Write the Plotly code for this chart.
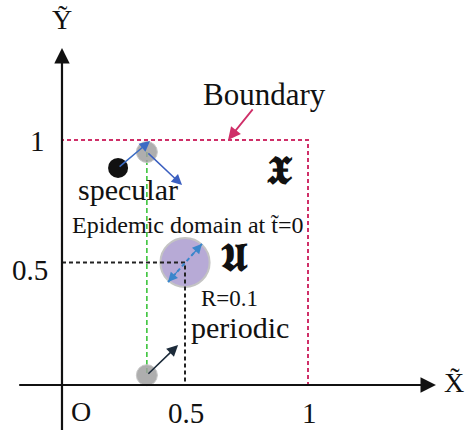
import plotly.graph_objects as go

# ---- data (domain coordinates) ----
tick_vals = [0.5, 1.0]
x_tick_labels = ["0.5", "1"]
y_tick_labels = ["0.5", "1"]
boundary_x = [0, 1, 1, 0, 0]
boundary_y = [0, 0, 1, 1, 0]
domain_center = [0.5, 0.5]
domain_radius = 0.1
specular_particle = [0.228, 0.886]
mirror_particle = [0.345, 0.951]
periodic_particle = [0.345, 0.04]
specular_in_tip = [0.358, 0.996]
specular_out_tip = [0.488, 0.816]
periodic_tip = [0.472, 0.163]
diam_a = [0.431, 0.42]
diam_b = [0.569, 0.576]
boundary_label = [0.825, 1.184]
boundary_arrow_tail = [0.78, 1.131]
boundary_arrow_head = [0.675, 1.0]

SERIF = "Liberation Serif"
CRIMSON = "#cf2f68"

fig = go.Figure()

# boundary square
fig.add_trace(go.Scatter(x=boundary_x, y=boundary_y, mode="lines",
                         line=dict(color=CRIMSON, width=2, dash="4px,3px"),
                         hoverinfo="skip"))
# black dotted guides to domain centre
fig.add_trace(go.Scatter(x=[0, domain_center[0], domain_center[0]],
                         y=[domain_center[1], domain_center[1], 0], mode="lines",
                         line=dict(color="#222222", width=2, dash="4px,3px"),
                         hoverinfo="skip"))
# green dashed trajectory line
fig.add_trace(go.Scatter(x=[mirror_particle[0], periodic_particle[0]],
                         y=[mirror_particle[1], periodic_particle[1]], mode="lines",
                         line=dict(color="#3cc43c", width=1.6, dash="5px,3px"),
                         hoverinfo="skip"))

# epidemic domain circle
fig.add_shape(type="circle", xref="x", yref="y",
              x0=domain_center[0] - domain_radius, x1=domain_center[0] + domain_radius,
              y0=domain_center[1] - domain_radius, y1=domain_center[1] + domain_radius,
              fillcolor="#b7aad6", line=dict(color="#c4c4c4", width=2), layer="below")

# particles
fig.add_trace(go.Scatter(x=[specular_particle[0]], y=[specular_particle[1]], mode="markers",
                         marker=dict(size=20, color="#111111"), hoverinfo="skip"))
fig.add_trace(go.Scatter(x=[mirror_particle[0], periodic_particle[0]],
                         y=[mirror_particle[1], periodic_particle[1]], mode="markers",
                         marker=dict(size=21, color="rgba(160,160,160,0.85)",
                                     line=dict(color="#c8c8c8", width=1)), hoverinfo="skip"))

# diameter dashed line
fig.add_trace(go.Scatter(x=[diam_a[0], diam_b[0]], y=[diam_a[1], diam_b[1]], mode="lines",
                         line=dict(color="#3a86cc", width=2, dash="4px,3px"), hoverinfo="skip"))

def arrow(tail, head, color, width=1.6, size=1.3, head_style=2):
    fig.add_annotation(x=head[0], y=head[1], ax=tail[0], ay=tail[1],
                       xref="x", yref="y", axref="x", ayref="y",
                       showarrow=True, arrowhead=head_style, arrowsize=size,
                       arrowwidth=width, arrowcolor=color, text="")

# axes
arrow([-0.18, 0], [1.52, 0], "#111111", width=2.2, size=1.4)
arrow([0, -0.19], [0, 1.375], "#111111", width=2.2, size=1.4)
# specular arrows
arrow(specular_particle, specular_in_tip, "#3b6cc4", width=1.5, size=1.4)
arrow(mirror_particle, specular_out_tip, "#3b5fc0", width=1.5, size=1.4)
# periodic arrow
arrow(periodic_particle, periodic_tip, "#1c2b3a", width=1.6, size=1.4)
# diameter heads
mid = [(diam_a[0] + diam_b[0]) / 2, (diam_a[1] + diam_b[1]) / 2]
arrow([mid[0] + 0.3 * (diam_b[0] - mid[0]), mid[1] + 0.3 * (diam_b[1] - mid[1])], diam_b, "#3a86cc", width=1.2, size=1.6)
arrow([mid[0] + 0.3 * (diam_a[0] - mid[0]), mid[1] + 0.3 * (diam_a[1] - mid[1])], diam_a, "#3a86cc", width=1.2, size=1.6)
# boundary pointer
arrow(boundary_arrow_tail, boundary_arrow_head, CRIMSON, width=1.8, size=1.4)

def text(x, y, s, size, color="#111111", family=SERIF):
    fig.add_annotation(x=x, y=y, xref="x", yref="y", text=s, showarrow=False,
                       font=dict(family=family, size=size, color=color))

# tick labels
for v, lab in zip(tick_vals, x_tick_labels):
    text(v + 0.005, -0.115, lab, 29)
for v, lab in zip(tick_vals, y_tick_labels):
    text(-0.13 if lab == "0.5" else -0.098, v - 0.03 if lab == "0.5" else v - 0.005, lab, 29)
text(0.077, -0.107, "O", 28)

# axis labels
text(0.0, 1.49, "Y\u0303", 28)
text(1.592, 0.01, "X\u0303", 28)

# annotations
text(boundary_label[0], boundary_label[1], "Boundary", 31)
text(0.268, 0.796, "specular", 30)
text(0.512, 0.655, "Epidemic domain at t\u0303=0", 24)
text(0.682, 0.355, "R=0.1", 23)
text(0.724, 0.233, "periodic", 30)
text(0.703, 0.522, "<b>\U0001D580</b>", 40)
text(0.885, 0.875, "<b>\U0001D583</b>", 40)

fig.update_layout(
    width=471, height=430, margin=dict(l=0, r=0, t=0, b=0),
    paper_bgcolor="white", plot_bgcolor="white", showlegend=False,
    xaxis=dict(range=[-0.252, 1.6626], visible=False, fixedrange=True),
    yaxis=dict(range=[-0.1837, 1.5714], visible=False, fixedrange=True),
)

fig.write_html("out.html", config={"displayModeBar": False})
